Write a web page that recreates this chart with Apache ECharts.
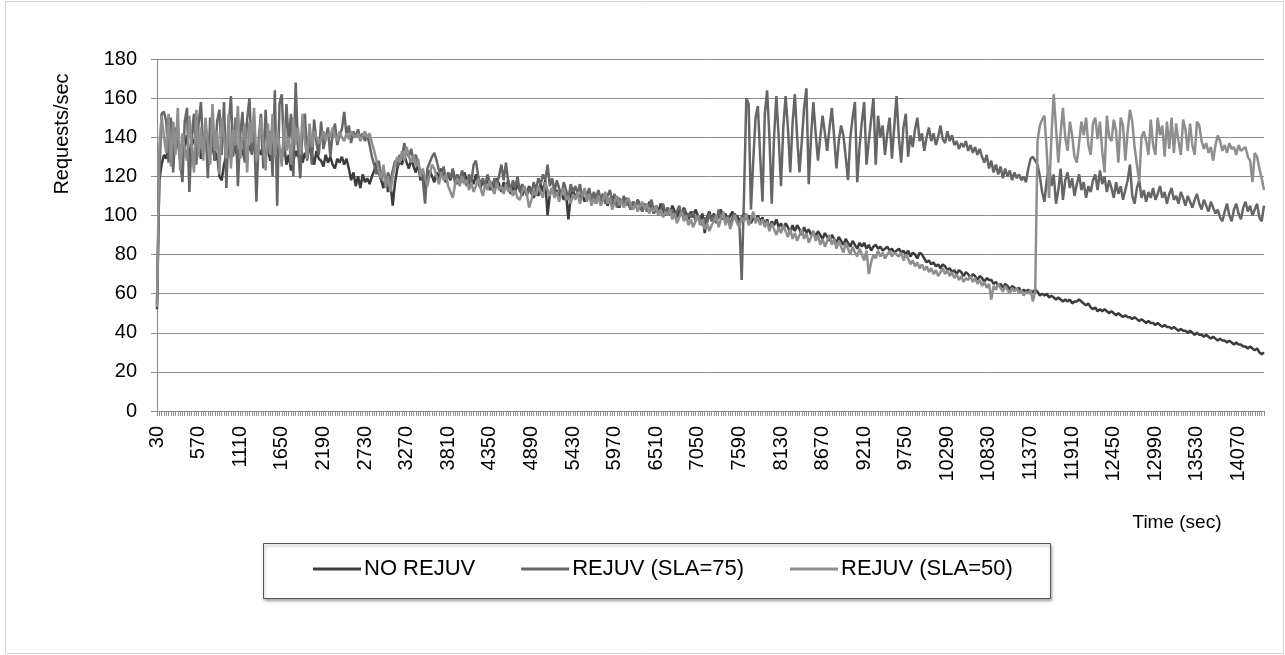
<!DOCTYPE html>
<html>
<head>
<meta charset="utf-8">
<script src="https://cdn.jsdelivr.net/npm/echarts@6/dist/echarts.min.js"></script>
<style>
html,body{margin:0;padding:0;background:#fff;}
#chart{width:1285px;height:655px;}
</style>
</head>
<body>
<div id="chart"></div>
<script>
// Time categories (sec): 30 .. 14400 step 30
var categories = [];
for (var t = 30; t <= 14400; t += 30) categories.push(String(t));

var seriesNames = ['NO REJUV', 'REJUV (SLA=75)', 'REJUV (SLA=50)'];

var noRejuv = [52,
118,126,131,129,136,133,140,134,138,131,
137,135,141,130,136,139,133,138,129,135,
140,134,131,137,128,132,120,118,126,131,
134,129,137,133,130,135,133,128,131,136,
132,138,129,134,131,137,130,135,128,133,
136,129,134,131,137,126,131,123,128,133,
130,136,127,132,129,135,131,126,133,129,
128,125,131,127,130,126,124,129,127,130,
126,129,124,118,122,115,120,114,121,117,
119,116,120,123,127,122,118,114,120,112,
116,105,117,124,128,126,131,127,124,129,
125,122,127,118,121,112,119,123,120,117,
122,119,124,120,117,121,118,123,119,116,
120,117,122,118,115,119,116,121,117,114,
118,115,120,113,117,114,119,116,112,117,
114,118,111,115,112,116,113,110,114,111,
115,112,109,113,110,116,112,118,100,111,
114,110,113,109,112,108,111,98,110,113,
109,112,108,111,107,110,113,108,111,106,
110,107,111,108,105,109,106,110,107,104,
108,105,109,106,103,107,104,108,105,102,
106,103,107,104,101,105,102,106,103,100,
104,101,105,102,99,103,100,104,101,98,
102,99,103,100,97,101,91,99,102,98,
101,97,100,103,98,101,97,100,102,98,
100,97,99,101,98,100,96,99,97,100,
97,99,95,98,93,97,95,98,94,96,
93,96,94,91,95,92,95,93,90,94,
91,93,90,92,89,92,90,88,91,89,
87,90,88,86,89,87,85,88,86,84,
87,85,83,86,84,86,83,85,82,84,
85,83,84,82,83,84,82,83,81,82,
83,81,82,80,82,79,81,80,78,81,
80,78,76,77,75,76,74,75,73,75,
74,72,73,71,72,70,72,71,69,71,
70,68,70,69,67,69,68,66,68,67,
67,65,66,64,65,63,65,64,62,64,
63,62,63,61,62,61,62,60,61,62,
61,59,60,59,60,58,59,58,57,58,
57,56,57,56,57,55,56,56,57,56,
55,54,55,53,52,53,51,52,51,52,
51,50,51,50,49,50,49,48,49,48,
48,47,48,47,46,47,46,45,46,45,
45,44,45,44,43,44,43,43,42,43,
42,41,42,41,41,40,41,40,39,40,
39,39,38,39,38,37,38,37,36,37,
36,36,35,36,35,34,35,34,34,33,
33,32,33,32,31,32,30,29,30];

var rejuv75 = [55,
120,152,153,148,127,150,122,145,138,128,
117,148,155,112,140,152,126,147,158,133,
145,119,150,139,128,148,154,131,158,114,
146,161,130,150,115,141,153,127,149,160,
131,145,107,139,152,124,154,132,143,120,
164,105,157,162,130,157,138,152,120,168,
135,119,146,152,128,144,126,149,137,131,
148,134,140,145,130,142,147,136,141,144,
153,141,146,137,143,140,144,139,142,138,
141,136,130,126,121,128,118,124,116,122,
117,123,128,125,131,129,137,132,130,134,
128,131,126,122,118,106,124,127,130,132,
128,123,120,125,118,122,119,124,116,121,
118,123,119,115,121,117,126,128,120,116,
119,115,121,117,113,119,116,120,126,118,
127,117,113,118,114,120,112,116,113,110,
114,111,117,113,119,116,121,118,126,115,
119,112,118,114,110,117,113,108,116,112,
115,111,116,109,113,110,114,107,112,109,
113,108,111,106,110,113,107,111,104,109,
106,110,105,108,103,107,104,108,105,102,
106,102,105,108,101,104,100,103,106,101,
104,100,103,99,102,105,100,103,98,101,
99,102,97,100,98,95,99,96,101,97,
100,96,103,98,101,97,100,95,99,101,
98,96,67,110,160,157,103,128,150,156,
130,107,152,164,140,106,140,161,140,115,
145,161,145,122,147,162,140,122,138,155,
165,116,140,158,142,128,140,151,142,133,
145,155,140,124,138,146,141,130,118,140,
150,158,117,135,148,158,126,138,149,160,
126,151,140,146,131,142,150,129,145,161,
140,127,145,152,130,141,135,144,150,138,
142,133,140,145,138,142,136,140,146,139,
137,143,138,141,136,138,134,137,135,138,
133,136,132,135,131,134,130,127,131,124,
128,122,126,121,125,119,124,120,123,118,
122,119,121,118,120,117,124,129,130,128,
126,120,112,107,118,125,115,121,106,113,
124,108,118,122,114,119,110,116,121,113,
117,109,115,112,118,121,113,123,116,120,
112,118,114,109,117,111,115,108,113,118,
126,110,106,114,118,109,113,107,112,109,
114,108,111,115,109,112,106,111,114,108,
110,106,112,109,105,110,107,104,108,111,
106,103,108,105,102,107,104,101,103,99,
97,102,106,100,97,103,106,101,98,104,
107,102,105,100,103,106,99,97,105];

var rejuv50 = [53,
135,151,140,132,152,125,148,131,155,123,
142,134,128,151,136,122,154,130,145,128,
150,136,126,157,133,143,121,150,140,129,
152,124,144,136,156,129,139,147,122,148,
137,155,128,133,150,136,123,147,131,152,
129,144,135,125,148,133,140,126,150,136,
145,131,152,138,129,147,135,143,140,137,
139,143,138,142,140,145,141,138,143,140,
138,142,139,143,141,140,142,138,141,143,
140,142,137,133,128,123,119,126,114,120,
112,120,126,130,127,133,128,135,130,127,
131,125,129,120,124,119,115,121,126,124,
120,116,122,118,121,115,112,109,116,119,
115,120,116,118,113,117,112,115,119,114,
110,116,113,118,114,111,117,113,115,111,
116,112,114,110,113,109,108,112,115,111,
104,108,113,110,115,112,109,117,113,110,
114,109,112,107,111,114,108,110,106,111,
108,112,106,110,114,107,111,105,109,106,
110,105,108,112,106,109,103,107,110,105,
108,104,107,109,105,103,106,102,105,107,
103,106,101,104,102,105,100,103,99,102,
100,103,98,101,96,99,102,97,100,95,
98,94,97,100,95,98,93,96,92,95,
97,100,94,98,102,95,99,93,97,100,
96,94,99,97,101,95,98,102,96,99,
95,98,94,97,92,96,93,90,94,91,
95,92,89,93,88,91,87,90,93,88,
91,86,89,92,87,90,85,88,84,87,
90,85,88,83,87,84,81,86,83,80,
84,81,79,83,80,77,82,70,76,80,
78,82,79,81,78,80,82,79,81,80,
79,81,77,80,78,75,77,74,76,73,
75,72,74,71,73,70,72,69,71,73,
70,72,69,71,68,70,67,69,66,68,
67,69,66,68,65,67,64,66,63,65,
57,64,62,65,63,61,64,62,60,63,
61,63,60,62,59,61,60,62,56,61,
138,146,149,151,133,109,140,162,145,127,
142,155,140,133,148,141,130,127,137,148,
141,150,136,131,147,150,139,148,133,122,
151,140,138,149,143,127,150,146,128,143,
154,148,135,126,117,140,143,138,131,149,
136,131,150,141,146,130,148,134,150,132,
147,138,131,149,144,133,147,136,131,148,
146,138,134,137,132,135,128,136,141,138,
133,136,132,137,134,135,131,136,133,134,
135,130,128,117,132,130,124,119,113];

var FONT = "'Liberation Sans', Arial, Helvetica, sans-serif";
var colors = ['#3c3c3c', '#666666', '#8e8e8e'];

var chart = echarts.init(document.getElementById('chart'), null, {renderer: 'canvas'});

chart.setOption({
  animation: false,
  backgroundColor: '#ffffff',
  color: colors,
  grid: {left: 157, right: 21, top: 59, bottom: 244, containLabel: false},
  xAxis: {
    type: 'category',
    data: categories,
    boundaryGap: false,
    axisLine: {show: true, lineStyle: {color: '#8a8a8a', width: 1}},
    axisTick: {show: true, interval: 0, length: 5, lineStyle: {color: '#8f8f8f', width: 1}},
    axisLabel: {
      interval: 17, rotate: 90, margin: 15,
      color: '#000', fontSize: 20, fontFamily: FONT
    },
    splitLine: {show: false}
  },
  yAxis: {
    type: 'value',
    min: 0, max: 180, interval: 20,
    axisLine: {show: true, lineStyle: {color: '#8a8a8a', width: 1}},
    axisTick: {show: true, length: 6, lineStyle: {color: '#8a8a8a'}},
    axisLabel: {color: '#000', fontSize: 20, fontFamily: FONT, margin: 20},
    splitLine: {show: true, lineStyle: {color: '#8a8a8a', width: 1}}
  },
  legend: {
    show: true,
    data: seriesNames,
    left: 313, top: 558,
    padding: 0,
    icon: 'rect', itemWidth: 48, itemHeight: 3,
    itemGap: 46,
    itemStyle: {borderWidth: 0},
    textStyle: {color: '#000', fontSize: 22, fontFamily: FONT, padding: [0, 0, 0, -2]}
  },
  graphic: [
    {type: 'rect', shape: {x: 5.5, y: 1.5, width: 1278, height: 652},
     style: {fill: 'none', stroke: '#d4d4d4', lineWidth: 1}, silent: true, z: -10},
    {type: 'rect', shape: {x: 263.5, y: 543.5, width: 787, height: 55},
     style: {fill: '#fff', stroke: '#555', lineWidth: 1,
             shadowBlur: 3, shadowOffsetX: 1, shadowOffsetY: 2, shadowColor: 'rgba(0,0,0,0.35)'},
     silent: true, z: -5},
    {type: 'text', x: 62, y: 134, rotation: Math.PI / 2,
     style: {text: 'Requests/sec', fill: '#000', font: '20px ' + FONT,
             textAlign: 'center', textVerticalAlign: 'middle'}},
    {type: 'text', x: 1177, y: 523,
     style: {text: 'Time (sec)', fill: '#000', font: '19px ' + FONT,
             textAlign: 'center', textVerticalAlign: 'middle'}}
  ],
  series: [
    {name: seriesNames[0], type: 'line', data: noRejuv, symbol: 'none',
     lineStyle: {width: 2.5, color: colors[0]}, z: 2},
    {name: seriesNames[1], type: 'line', data: rejuv75, symbol: 'none',
     lineStyle: {width: 2.5, color: colors[1]}, z: 3},
    {name: seriesNames[2], type: 'line', data: rejuv50, symbol: 'none',
     lineStyle: {width: 2.5, color: colors[2]}, z: 4}
  ]
});
</script>
</body>
</html>
